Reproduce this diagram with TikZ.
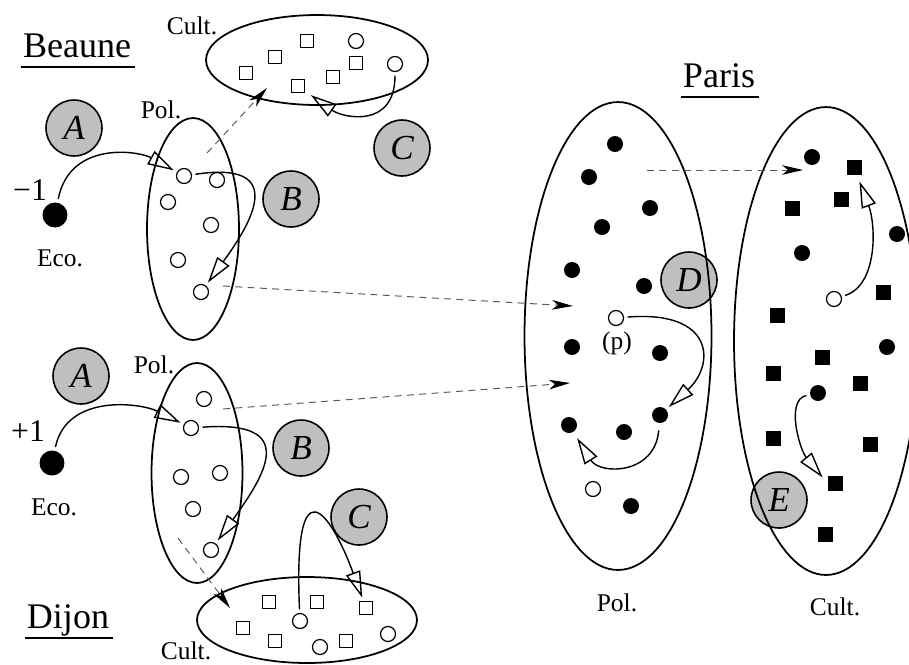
\documentclass[tikz,border=0pt]{standalone}
\usepackage{fontspec}
\setmainfont{Liberation Serif}
\usetikzlibrary{arrows.meta,positioning,shapes.geometric}
\tikzset{%
	zone/.style   = {draw, ellipse, inner sep=0pt, line width=1pt}, % set of agents
	agent/.style  = {draw, circle, minimum size=0.3cm, inner sep=0pt, line width=0.7pt}, % open circle
	dot/.style    = {fill, circle, minimum size=0.32cm, inner sep=0pt}, % filled circle
	eco/.style    = {fill, circle, minimum size=0.5cm, inner sep=0pt}, % economic agent
	obj/.style    = {draw, rectangle, minimum size=0.26cm, inner sep=0pt, line width=0.7pt}, % open square
	fobj/.style   = {fill, rectangle, minimum size=0.3cm, inner sep=0pt}, % filled square
	phase/.style  = {draw, circle, fill=gray!50, minimum size=1.12cm, inner sep=0pt, line width=0.9pt, font=\fontsize{20}{20}\selectfont\itshape},
	lab/.style    = {font=\fontsize{14.5}{16}\selectfont},
	town/.style   = {font=\fontsize{20.5}{24}\selectfont, inner sep=0pt},
	move/.style   = {-{Triangle[open, length=15pt, width=8.5pt]}, line width=0.8pt, shorten >=2pt, shorten <=2pt},
	link/.style   = {-{Stealth[length=12pt, width=5.5pt, inset=3.5pt, color=black]}, draw=black!65, line width=0.55pt, dash pattern=on 4pt off 3pt},
}
\newcommand{\townline}[1]{\draw[line width=1pt] ([xshift=-1pt,yshift=-5.5pt]#1.base west) -- ([xshift=2pt,yshift=-5.5pt]#1.base east);}

\begin{document}
\begin{tikzpicture}[x=0.02cm, y=-0.02cm]
	\useasboundingbox (0,0) rectangle (909,664);
	% Beaune
	\node[town, anchor=base] (beaune) at (77,57) {Beaune};
	\townline{beaune}
	\node[phase] (ab) at (74,128) {A};
	\node[phase] (bb) at (291,199) {B};
	\node[phase] (cb) at (402,148) {C};
	\node[lab] (lbcult) at (192,26) {Cult.};
	\node[zone, minimum width=4.44cm, minimum height=1.8cm] (bcult) at (317,60) {};
	\foreach \p [count=\i] in {(246,73),(275,57),(307,41),(298,86),(333,77),(356,63)}
		\node[obj] (ts\i) at \p {};
	\node[agent] (tc1) at (356,41) {};
	\node[agent] (tc2) at (395,64) {};
	\node[lab] (lbpol) at (161,110) {Pol.};
	\node[zone, minimum width=1.84cm, minimum height=4.44cm] (bpol) at (193,229) {};
	\foreach \p [count=\i] in {(184,176),(217,180),(168,202),(211,225),(178,260),(201,292)}
		\node[agent] (b\i) at \p {};
	\node[eco] (ecob) at (55,215) {};
	\node[lab, font=\fontsize{18}{18}\selectfont] (mb) at (30,190) {−1};
	\node[lab] (lbeco) at (60,258) {Eco.};
	\draw[move] (ecob) .. controls +(15,-75) and +(-45,-25) .. (b1);
	\draw[move] (b1) .. controls (290,160) and (250,225) .. (b6);
	\draw[move, shorten >=4pt] (tc2) .. controls +(0,65) and +(45,32) .. (ts4);
	% Dijon
	\node[town, anchor=base] (dijon) at (68,628) {Dijon};
	\townline{dijon}
	\node[phase] (ad) at (81,376) {A};
	\node[phase] (bd) at (301,448) {B};
	\node[phase] (cd) at (359,517) {C};
	\node[lab] (ldpol) at (154,365) {Pol.};
	\node[zone, minimum width=1.82cm, minimum height=4.4cm] (dpol) at (197,473) {};
	\foreach \p [count=\i] in {(204,399),(191,428),(181,477),(220,473),(193,509),(211,550)}
		\node[agent] (d\i) at \p {};
	\node[eco] (ecod) at (52,463) {};
	\node[lab, font=\fontsize{18}{18}\selectfont] (md) at (28,431) {+1};
	\node[lab] (ldeco) at (54,507) {Eco.};
	\node[lab] (ldcult) at (186,651) {Cult.};
	\node[zone, minimum width=4.4cm, minimum height=1.72cm] (dcult) at (307,620) {};
	\foreach \p [count=\i] in {(243,628),(269,602),(275,641),(317,602),(366,608),(346,641)}
		\node[obj] (ds\i) at \p {};
	\foreach \p [count=\i] in {(300,621),(320,647),(388,634)}
		\node[agent] (dc\i) at \p {};
	\draw[move] (ecod) .. controls +(15,-70) and +(-50,-25) .. (d2);
	\draw[move] (d2) .. controls (300,420) and (265,475) .. (d6);
	\draw[move] (dc1) .. controls +(-7,-160) and +(-36,-98) .. (ds5);
	% Paris
	\node[town, anchor=base] (paris) at (719,87) {Paris};
	\townline{paris}
	\node[phase] (dp) at (689,280) {D};
	\node[phase] (ep) at (779,500) {E};
	\node[zone, minimum width=3.74cm, minimum height=9.36cm] (ppol) at (618,336) {};
	\node[zone, minimum width=3.68cm, minimum height=9.36cm] (pcult) at (826,341) {};
	\node[lab] (lppol) at (617,603) {Pol.};
	\node[lab] (lpcult) at (835,607) {Cult.};
	\foreach \p [count=\i] in {(615,144),(589,177),(650,208),(602,227),(572,270),(644,286),
		(572,347),(660,353),(660,415),(569,425),(624,432),(631,506)}
		\node[dot] (q\i) at \p {};
	\node[agent] (p) at (616,318) {};
	\node[lab] (lp) at (617,343) {(p)};
	\node[agent] (pq) at (593,489) {};
	\foreach \p [count=\i] in {(812,157),(897,234),(802,253),(887,347),(818,393)}
		\node[dot] (k\i) at \p {};
	\foreach \p [count=\i] in {(854,167),(841,199),(792,208),(883,292),(777,315),(822,357),
		(773,373),(860,383),(773,438),(870,444),(835,483),(825,534)}
		\node[fobj] (s\i) at \p {};
	\node[agent] (o) at (834,299) {};
	\draw[move] (p) .. controls (715,310) and (715,365) .. (q9);
	\draw[move, shorten <=4pt, shorten >=4pt] (q9) .. controls (655,475) and (600,475) .. (q10);
	\draw[move, shorten >=4pt] (o) .. controls (878,285) and (876,225) .. (s1);
	\draw[move, shorten >=4pt] (k5) .. controls (785,400) and (800,450) .. (s11.west);
	% migrations
	\coordinate (u1) at (207,153);
	\coordinate (v1) at (267,88);
	\coordinate (u2) at (223,286);
	\coordinate (v2) at (573,306);
	\coordinate (u3) at (223,409);
	\coordinate (v3) at (570,383);
	\coordinate (u4) at (178,538);
	\coordinate (v4) at (230,608);
	\coordinate (u5) at (647,170);
	\coordinate (v5) at (803,170);
	\foreach \i in {1,...,5}
		\draw[link] (u\i) -- (v\i);
\end{tikzpicture}
\end{document}
